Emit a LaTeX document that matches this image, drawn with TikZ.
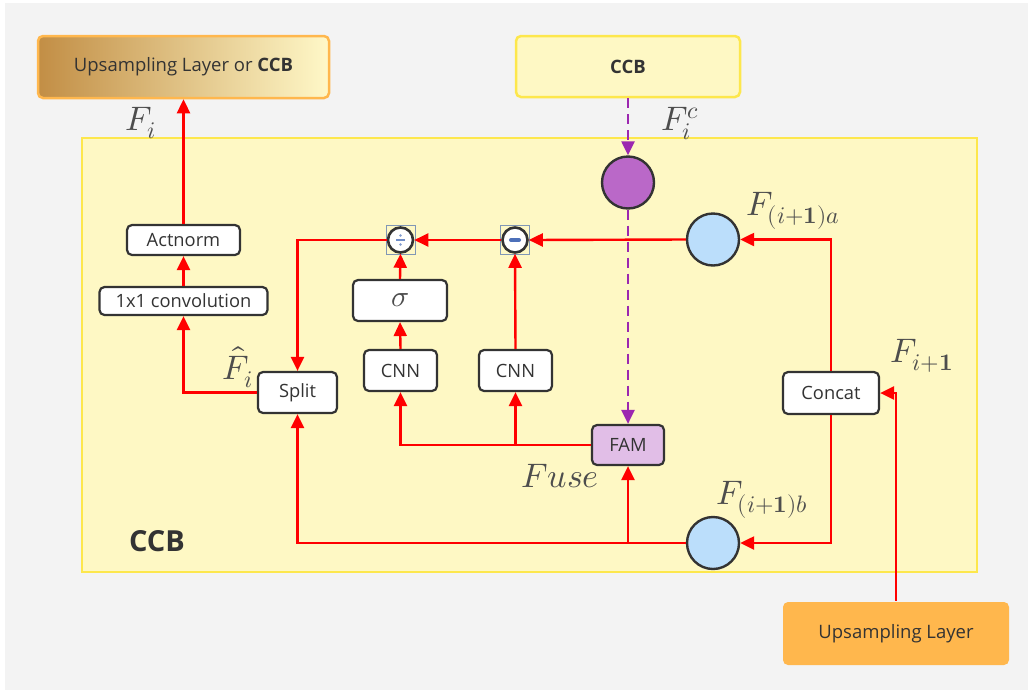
\documentclass[tikz,border=0pt]{standalone}
\usepackage{fontspec}
\usepackage{unicode-math}
\setmainfont{Open Sans}
\setmathfont{Latin Modern Math}
\usetikzlibrary{arrows.meta,calc}

\definecolor{pagebg}{HTML}{F3F3F3}
\definecolor{panel}{HTML}{FEF8C4}
\definecolor{panelline}{HTML}{FDE74C}
\definecolor{boxline}{HTML}{333333}
\definecolor{txt}{HTML}{333333}
\definecolor{lblc}{HTML}{4D4D4D}
\definecolor{flowred}{HTML}{FF0000}
\definecolor{purpleline}{HTML}{9C27B0}
\definecolor{purplefill}{HTML}{BA68C8}
\definecolor{bluefill}{HTML}{BBDEFB}
\definecolor{famfill}{HTML}{E1BEE7}
\definecolor{orange}{HTML}{FFB74D}
\definecolor{goldL}{HTML}{C28E45}
\definecolor{goldR}{HTML}{FFF8C8}
\definecolor{opblue}{HTML}{4C70B9}
\definecolor{selline}{HTML}{8197B5}

\begin{document}
\begin{tikzpicture}[x=1pt,y=-1pt,
  box/.style={draw=boxline, line width=2.2pt, fill=white, rounded corners=5pt,
    font=\fontsize{18.3}{20}\selectfont, text=txt, inner sep=0pt},
  bigbox/.style={rounded corners=5pt, line width=2.5pt, inner sep=0pt,
    font=\fontsize{18.5}{21}\selectfont, text=txt},
  flow/.style={draw=flowred, line width=2.4pt, -{Triangle[length=14pt,width=13pt]}},
  dflow/.style={draw=purpleline, line width=2.4pt, dash pattern=on 10pt off 6pt,
    -{Triangle[length=14pt,width=13pt]}},
  feat/.style={circle, draw=boxline, line width=2.4pt, minimum size=52pt, inner sep=0pt},
  op/.style={circle, draw=boxline, line width=2.6pt, fill=white, minimum size=25pt, inner sep=0pt},
  sel/.style={draw=selline, line width=0.9pt, minimum size=29pt, inner sep=0pt},
  lbl/.style={text=lblc, font=\fontsize{34}{36}\selectfont, inner sep=0pt}
]
\useasboundingbox (0,0) rectangle (1031,694);
\fill[white] (0,0) rectangle (1031,694);
\fill[pagebg] (5,3) rectangle (1028,690);

% main block panel
\draw[draw=panelline, fill=panel, line width=2.5pt] (82,138) rectangle (977,572);
\node[font=\bfseries\fontsize{29}{31}\selectfont, text=txt] (ccblabel) at (157,541) {CCB};

% outside blocks
\node[bigbox, draw=orange, left color=goldL, right color=goldR,
  minimum width=291pt, minimum height=62pt] (up) at (183.5,67) {Upsampling Layer or \textbf{CCB}};
\node[bigbox, draw=panelline, fill=panel, minimum width=224pt, minimum height=61pt]
  (ccbtop) at (628,66.5) {\textbf{CCB}};
\node[bigbox, draw=none, fill=orange, minimum width=226pt, minimum height=63pt]
  (upl) at (896,633.5) {Upsampling Layer};

% processing boxes
\node[box, minimum width=113pt, minimum height=30pt] (act) at (183.5,240) {Actnorm};
\node[box, minimum width=168pt, minimum height=28pt] (conv) at (183.5,301) {1x1 convolution};
\node[box, minimum width=79pt, minimum height=41pt] (split) at (297.5,392.5) {Split};
\node[box, minimum width=94pt, minimum height=41pt,
  font=\fontsize{30}{32}\selectfont, text=lblc] (sig) at (400,300.5) {$\sigma$};
\node[box, minimum width=73pt, minimum height=41pt] (cnn1) at (400.5,370.5) {CNN};
\node[box, minimum width=73pt, minimum height=41pt] (cnn2) at (515.5,370.5) {CNN};
\node[box, fill=famfill, minimum width=72pt, minimum height=40pt] (fam) at (628,445) {FAM};
\node[box, minimum width=96pt, minimum height=42pt] (concat) at (831,393) {Concat};

% feature circles
\node[feat, fill=purplefill] (fc) at (628,182.5) {};
\node[feat, fill=bluefill] (fa) at (713,239.5) {};
\node[feat, fill=bluefill] (fb) at (713,543) {};

% element-wise operators
\node[sel] (divsel) at (400.5,240) {};
\node[sel] (minsel) at (515,240) {};
\node[op] (div) at (400.5,240) {};
\node[op] (minus) at (515,240) {};
\draw[opblue!80, line width=1.6pt] ($(div.center)+(-4.5,0)$) -- ($(div.center)+(4.5,0)$);
\fill[opblue!70] ($(div.center)+(0,-4.5)$) circle (1.3pt);
\fill[opblue!70] ($(div.center)+(0,4.5)$) circle (1.3pt);
\draw[opblue, line width=4pt, line cap=round] ($(minus.center)+(-4,0)$) -- ($(minus.center)+(4,0)$);

% red data flow
\draw[flow] (act.north) -- (up.south);
\draw[flow] (conv.north) -- (act.south);
\draw[flow] (split.west) -| (conv.south);
\draw[flow] (div.west) -| (split.north);
\draw[flow] (minus.west) -- (div.east);
\draw[flow] (fa.west) -- (minus.east);
\draw[flow] (concat.north) |- (fa.east);
\draw[flow] (concat.south) |- (fb.east);
\draw[flow] (upl.north) |- (concat.east);
\draw[flow] (fb.west) -| (split.south);
\draw[flow] (fb.west -| fam.south) -- (fam.south);
\draw[flow] (fam.west) -| (cnn1.south);
\draw[flow] (fam.west -| cnn2.south) -- (cnn2.south);
\draw[flow] (cnn1.north) -- (sig.south);
\draw[flow] (sig.north) -- (div.south);
\draw[flow] (cnn2.north) -- (minus.south);

% conditional feature path
\draw[dflow] (ccbtop.south) -- (fc.north);
\draw[dflow] (fc.south) -- (fam.north);

% feature labels
\node[lbl] (lfi) at (141,123) {$F_i$};
\node[lbl] (lfhat) at (238,367) {$\hat{F}_i$};
\node[lbl] (lfc) at (680,124) {$F_i^c$};
\node[lbl] (lfa) at (793,211) {$F_{(i+\symbf{1})a}$};
\node[lbl] (lfb) at (762,500) {$F_{(i+\symbf{1})b}$};
\node[lbl] (lfn) at (922,356) {$F_{i+\symbf{1}}$};
\node[lbl] (lfuse) at (560,476) {$Fuse$};
\end{tikzpicture}
\end{document}
